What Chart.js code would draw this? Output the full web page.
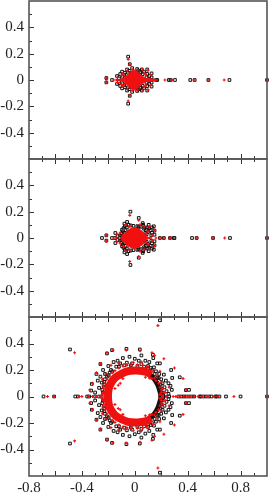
<!DOCTYPE html>
<html>
<head>
<meta charset="utf-8">
<script src="https://cdn.jsdelivr.net/npm/chart.js@4"></script>
<style>
  html, body { margin: 0; padding: 0; background: #fff; }
  body { position: relative; width: 269px; height: 493px; overflow: hidden; }
  canvas { position: absolute; left: 0; }
</style>
</head>
<body>
<canvas id="top" width="269" height="160" style="top:0"></canvas>
<canvas id="mid" width="269" height="160" style="top:158px"></canvas>
<canvas id="bot" width="269" height="177" style="top:316px"></canvas>
<script>
// upper panel
var topBlack = [
  [1,0],[0.716,0],[0.557,0],[0.453,0],[0.42,0],[0.304,0],[0.27,0],[0.258,0],[0.17,0],[0.16,0],[-0.172,0],
  [-0.215,0.015],[-0.215,-0.018],[-0.05,0.177],[-0.05,-0.18],[-0.038,0.12],[-0.038,-0.12],
  [-0.096,0.063],[-0.096,-0.063],[-0.058,0.08],[-0.058,-0.08],[-0.02,0.09],[-0.02,-0.09],[0.018,0.083],[0.018,-0.083],
  [0.053,0.08],[0.053,-0.08],[0.094,0.08],[0.094,-0.08],[0.127,0.05],[0.127,-0.05],[0.094,0.046],[0.094,-0.046],
  [-0.134,0.03],[-0.134,-0.03],[-0.096,0.025],[-0.096,-0.025],[-0.063,0.018],[-0.063,-0.018],[0.089,0.02],[0.089,-0.02],
  [0.127,0.02],[0.127,-0.02],[-0.11,0.045],[-0.11,-0.045],[-0.075,0.055],[-0.075,-0.055],[0.07,0.06],[0.07,-0.06],
  [0.11,0.03],[0.11,-0.03],[0.03,0.07],[0.03,-0.07],[-0.04,0.07],[-0.04,-0.07],[-0.12,0.012],[-0.12,-0.012],
  [-0.08,0.04],[-0.08,-0.04],[0.06,0.045],[0.06,-0.045],[0.04,0.06],[0.04,-0.06],[-0.05,0.055],[-0.05,-0.055]
];
var topRed = [
  [1,0],[0.676,0],[0.554,0],[0.448,0],[0.283,0],[0.228,0],[0.157,0],[0.14,0],[-0.16,0],[-0.14,0],
  [-0.215,0.012],[-0.215,-0.015],[-0.05,0.157],[-0.05,-0.16],[-0.038,0.115],[-0.038,-0.115],
  [-0.09,0.05],[-0.09,-0.05],[-0.055,0.07],[-0.055,-0.07],[-0.02,0.08],[-0.02,-0.08],[0.02,0.078],[0.02,-0.078],
  [0.06,0.082],[0.06,-0.082],[0.1,0.075],[0.1,-0.075],[0.12,0.04],[0.12,-0.04],[-0.13,0.02],[-0.13,-0.02],
  [-0.1,0.035],[-0.1,-0.035],[0.085,0.04],[0.085,-0.04],[0.07,0.05],[0.07,-0.05],[-0.08,0.03],[-0.08,-0.03]
];
var topCore = [
  [-0.14,0],[-0.08,0.012],[-0.06,0.035],[-0.035,0.058],[-0.005,0.078],[0.02,0.06],[0.05,0.035],[0.08,0.014],[0.115,0.01],[0.17,0],
  [0.115,-0.01],[0.08,-0.014],[0.05,-0.035],[0.02,-0.06],[-0.005,-0.078],[-0.035,-0.058],[-0.06,-0.035],[-0.08,-0.012]
];

// middle panel
var midBlack = [
  [1,0],[0.72,0],[0.592,0],[0.468,0],[0.433,0],[0.3,0],[0.295,0],[0.266,0],[0.22,0],[0.19,0],[-0.248,0],[-0.172,0],[-0.15,0],
  [-0.215,0.02],[-0.215,-0.02],[-0.033,0.2],[-0.033,-0.205],[0.03,0.152],[0.03,-0.15],[-0.078,0.109],[-0.078,-0.109],
  [-0.046,0.1],[-0.046,-0.1],[0.063,0.1],[0.063,-0.1],[0.094,0.08],[0.094,-0.08],[0.144,0.089],[0.144,-0.089],
  [0.149,0.056],[0.149,-0.056],[0.149,0.025],[0.149,-0.025],[-0.058,0.122],[-0.058,-0.122],[-0.096,0.063],[-0.096,-0.063],
  [-0.147,0.038],[-0.147,-0.038],[-0.1,0.035],[-0.1,-0.035],[-0.085,0.075],[-0.085,-0.075],[-0.01,0.092],[-0.01,-0.092],
  [0.02,0.09],[0.02,-0.09],[0.045,0.085],[0.045,-0.085],[0.075,0.08],[0.075,-0.08],[0.085,0.06],[0.085,-0.06],
  [0.1,0.045],[0.1,-0.045],[0.12,0.06],[0.12,-0.06],[0.125,0.02],[0.125,-0.02],[-0.075,0.09],[-0.075,-0.09],
  [-0.09,0.05],[-0.09,-0.05],[-0.06,0.08],[-0.06,-0.08],[-0.13,0.015],[-0.13,-0.015],[0.06,0.113],[0.06,-0.113],[0.105,0.1],[0.105,-0.1],
  [-0.07,0.06],[-0.07,-0.06],[-0.08,0.04],[-0.08,-0.04],[0.07,0.07],[0.07,-0.07],[0.08,0.04],[0.08,-0.04],[0.09,0.03],[0.09,-0.03],
  [-0.1,0.015],[-0.1,-0.015],[-0.11,0.02],[-0.11,-0.02],[0.03,0.085],[0.03,-0.085],[-0.03,0.095],[-0.03,-0.095],
  [0.11,0.075],[0.11,-0.075],[0.13,0.08],[0.13,-0.08],[0.13,0.04],[0.13,-0.04]
];
var midRed = [
  [1,0],[0.68,0],[0.592,0],[0.47,0],[0.27,0],[0.265,0],[0.22,0],[0.19,0],[0.16,0],[-0.16,0],[-0.14,0],
  [-0.215,0.022],[-0.215,-0.024],[-0.038,0.172],[-0.038,-0.178],[0.03,0.135],[0.03,-0.14],[-0.07,0.1],[-0.07,-0.1],
  [-0.04,0.09],[-0.04,-0.09],[0.04,0.1],[0.04,-0.1],[0.07,0.085],[0.07,-0.085],[0.11,0.085],[0.11,-0.085],
  [0.15,0.06],[0.15,-0.06],[0.135,0.02],[0.135,-0.02],[-0.11,0.04],[-0.11,-0.04],[-0.135,0.03],[-0.135,-0.03],
  [-0.085,0.065],[-0.085,-0.065],[0.1,0.05],[0.1,-0.05],[0.085,0.035],[0.085,-0.035],[-0.09,0.02],[-0.09,-0.02]
];
var midCore = [
  [-0.11,0],[-0.085,0.015],[-0.075,0.035],[-0.055,0.058],[-0.03,0.072],[0,0.08],[0.03,0.07],[0.058,0.05],[0.075,0.025],[0.1,0.006],[0.13,0],
  [0.1,-0.006],[0.075,-0.025],[0.058,-0.05],[0.03,-0.07],[0,-0.08],[-0.03,-0.072],[-0.055,-0.058],[-0.075,-0.035],[-0.085,-0.015]
];

// lower panel
var botBlack = [
  [1,0],[0.8,0],[0.69,0],[0.64,0],[0.62,0],[0.61,0],[0.58,0],[0.56,0],[0.54,0],[0.52,0],[0.5,0],[0.49,0],[0.45,0],[0.43,0],[0.41,0],
  [0.39,0],[0.37,0],[0.35,0],[0.33,0],[0.26,0],[0.22,0],[-0.69,0],[-0.61,0],[-0.45,0],[-0.43,0],[-0.36,0],[-0.345,0],[-0.3,0],[-0.27,0],[-0.25,0],
  [0.19,0.575],[0.19,-0.575],[-0.49,0.355],[-0.49,-0.355],[-0.063,0.36],[-0.063,-0.36],[0.038,0.355],[0.038,-0.355],
  [-0.172,0.35],[-0.172,-0.35],[-0.21,0.325],[-0.21,-0.325],[0.137,0.315],[0.137,-0.32],[-0.26,0.245],[-0.26,-0.25],
  [0.05,0.31],[0.05,-0.31],[-0.29,0.17],[-0.29,-0.175],[-0.325,0.095],[-0.325,-0.1],[-0.33,0.045],[-0.33,-0.05],
  [0.34,0.145],[0.34,-0.145],[0.283,0.14],[0.283,-0.14],[0.275,0.2],[0.275,-0.2],[0.22,0.165],[0.22,-0.165],
  [0.19,0.25],[0.19,-0.25],[0.145,0.22],[0.145,-0.22],[0.41,0.05],[0.41,-0.05],[0.387,0.048],[0.387,-0.05],
  [-0.09,0.29],[-0.09,-0.29],[-0.04,0.3],[-0.04,-0.3],[0,0.285],[0,-0.285],[0.03,0.27],[0.03,-0.27],[0.08,0.27],[0.08,-0.28],
  [0.11,0.26],[0.11,-0.26],[0.14,0.29],[0.14,-0.29],[0.17,0.25],[0.17,-0.25],[-0.13,0.27],[-0.13,-0.27],[-0.16,0.26],[-0.16,-0.26],
  [-0.2,0.23],[-0.2,-0.23],[-0.24,0.2],[-0.24,-0.2],[-0.26,0.15],[-0.26,-0.155],[-0.25,0.105],[-0.25,-0.105],
  [-0.28,0.12],[-0.28,-0.125],[-0.27,0.065],[-0.27,-0.065],[-0.3,0.03],[-0.3,-0.03],[-0.225,0.17],[-0.225,-0.17],
  [-0.11,0.25],[-0.11,-0.25],[-0.06,0.255],[-0.06,-0.255],[-0.02,0.25],[-0.02,-0.25],[0.05,0.245],[0.05,-0.245],[0.1,0.23],[0.1,-0.23],
  [-0.235,0.07],[-0.235,-0.07],[-0.24,0.03],[-0.24,-0.03],[-0.23,0.11],[-0.23,-0.11],[-0.2,0.16],[-0.2,-0.16],[-0.18,0.2],[-0.18,-0.2],
  [-0.14,0.225],[-0.14,-0.225],[0.13,0.2],[0.13,-0.2],[0.16,0.19],[0.16,-0.19],[0.185,0.17],[0.185,-0.17],[0.2,0.13],[0.2,-0.13],
  [0.18,0.14],[0.18,-0.14],[0.21,0.1],[0.21,-0.1],[0.225,0.07],[0.225,-0.07],[0.24,0.04],[0.24,-0.04],[0.27,0.08],[0.27,-0.08],
  [0.255,0.1],[0.255,-0.1],[0.28,0.05],[0.28,-0.05],[0.255,0.02],[0.255,-0.02],[0.235,0.12],[0.235,-0.12],
  [-0.03,0.235],[-0.03,-0.235],[0.02,0.23],[0.02,-0.23],[0.07,0.225],[0.07,-0.225],[0.12,0.215],[0.12,-0.215],[0.15,0.17],[0.15,-0.17],
  [0.17,0.14],[0.17,-0.14],[0.195,0.09],[0.195,-0.09],[0.2,0.06],[0.2,-0.06],[0.21,0.03],[0.21,-0.03],[0.215,0.01],[0.215,-0.01],
  [-0.08,0.235],[-0.08,-0.235],[-0.17,0.19],[-0.17,-0.19],[-0.21,0.15],[-0.21,-0.15],[-0.23,0.09],[-0.23,-0.09],[-0.245,0.05],[-0.245,-0.05],
  [-0.225,0.13],[-0.225,-0.13],[-0.19,0.18],[-0.19,-0.18],[-0.12,0.225],[-0.12,-0.225]
];
var botRed = [
  [1,0],[0.75,0],[0.63,0],[0.6,0],[0.55,0],[0.51,0],[0.48,0],[0.45,0],[0.42,0],[0.4,0],[0.37,0],[0.34,0],[0.31,0],[0.29,0],[0.24,0],[0.21,0],
  [-0.66,0],[-0.61,0],[-0.42,0],[-0.4,0],[-0.35,0],[-0.32,0],[-0.29,0],[-0.26,0],
  [0.175,0.535],[0.175,-0.54],[-0.455,0.33],[-0.455,-0.335],[-0.065,0.35],[-0.065,-0.35],[0.04,0.345],[0.04,-0.345],
  [-0.165,0.35],[-0.165,-0.35],[-0.21,0.33],[-0.21,-0.33],[0.13,0.33],[0.13,-0.33],[-0.26,0.25],[-0.26,-0.245],
  [0.3,0.215],[0.3,-0.215],[0.22,0.285],[0.22,-0.285],[0.365,0.135],[0.365,-0.135],[0.39,0.05],[0.39,-0.05],
  [0.15,0.31],[0.15,-0.3],[-0.34,0.05],[-0.34,-0.05],[-0.32,0.1],[-0.32,-0.1],[-0.29,0.18],[-0.29,-0.18],
  [-0.24,0.08],[-0.24,-0.08],[-0.245,0.13],[-0.245,-0.13],[-0.22,0.17],[-0.22,-0.17],[-0.18,0.235],[-0.18,-0.235],
  [-0.12,0.25],[-0.12,-0.25],[-0.07,0.245],[-0.07,-0.25],[-0.01,0.255],[-0.01,-0.255],[0.05,0.26],[0.05,-0.26],
  [0.1,0.225],[0.1,-0.24],[0.14,0.2],[0.14,-0.21],[0.17,0.16],[0.17,-0.16],[0.2,0.11],[0.2,-0.11],[0.215,0.06],[0.215,-0.06],
  [0.23,0.03],[0.23,-0.03],[0.26,0.07],[0.26,-0.07],[0.19,0.19],[0.19,-0.19],[0.12,0.18],[0.12,-0.18],
  [-0.11,0.1],[-0.11,-0.1],[-0.125,0.085],[-0.125,-0.09],[-0.15,0.06],[-0.15,-0.06],[-0.09,0.135],[-0.09,-0.135],
  [-0.235,0.03],[-0.235,-0.03],[-0.25,0.01],[-0.25,-0.01],[0.08,0.145],[0.08,-0.145],[0.11,0.14],[0.11,-0.14],[0.2,0.03],[0.2,-0.03],
  [-0.03,0.24],[-0.03,-0.24],[0.02,0.24],[0.02,-0.24],[0.06,0.235],[0.06,-0.235],[0.09,0.225],[0.09,-0.225],[-0.06,0.235],[-0.06,-0.235],
  [-0.09,0.23],[-0.09,-0.23],[-0.12,0.215],[-0.12,-0.215],[-0.15,0.195],[-0.15,-0.195],[-0.17,0.18],[-0.17,-0.18],[-0.19,0.155],[-0.19,-0.155],
  [-0.21,0.13],[-0.21,-0.13],[-0.225,0.1],[-0.225,-0.1],[-0.235,0.06],[-0.235,-0.06],[-0.24,0.02],[-0.24,-0.02],
  [0.12,0.14],[0.12,-0.14],[0.13,0.135],[0.13,-0.135],[0.15,0.14],[0.15,-0.14],[0.16,0.12],[0.16,-0.12],[0.18,0.1],[0.18,-0.1],
  [0.19,0.07],[0.19,-0.07],[0.2,0.05],[0.2,-0.05],[0.19,0.015],[0.19,-0.015],[0.205,0.01],[0.205,-0.01]
];
var botRedBand = [
  [0.125,-0.165],[0.09,-0.185],[0.04,-0.195],[0,-0.197],[-0.05,-0.192],[-0.1,-0.172],[-0.145,-0.145],[-0.178,-0.105],[-0.197,-0.06],[-0.203,0],
  [-0.197,0.06],[-0.178,0.105],[-0.145,0.145],[-0.1,0.172],[-0.05,0.192],[0,0.197],[0.04,0.195],[0.09,0.185],[0.125,0.165]
];
var botBlackBand = [
  [0.1,0.175],[0.145,0.135],[0.175,0.085],[0.193,0.03],[0.197,0],[0.193,-0.03],[0.175,-0.085],[0.145,-0.135],[0.1,-0.175]
];

var xTicksShown = [-0.8, -0.4, 0, 0.4, 0.8];
var yTicksShown = [-0.4, -0.2, 0, 0.2, 0.4];

function pts(list) {
  return list.map(function (p) { return { x: p[0], y: p[1] }; });
}

function fmt(v) {
  var s = (Math.round(v * 10) / 10).toString();
  return s;
}

function isShown(list, v) {
  return list.some(function (t) { return Math.abs(t - v) < 1e-6; });
}

// inward ticks and the frame, Chart.js only does outward ones
var frame = {
  id: "frame",
  afterDatasetsDraw: function (chart, args, opts) {
    var c = chart.ctx, a = chart.chartArea;
    c.save();
    c.strokeStyle = "#333";
    c.lineWidth = 1;
    c.beginPath();
    chart.scales.x.ticks.forEach(function (t) {
      var px = Math.round(chart.scales.x.getPixelForValue(t.value)) + 0.5;
      var len = Math.abs(Math.round(t.value * 10)) % 2 === 0 ? 5 : 3;
      if (px <= a.left + 1 || px >= a.right - 1) return;
      if (opts.bottom) { c.moveTo(px, a.bottom); c.lineTo(px, a.bottom - len); }
      if (opts.top) { c.moveTo(px, a.top); c.lineTo(px, a.top + len); }
    });
    chart.scales.y.ticks.forEach(function (t) {
      var py = Math.round(chart.scales.y.getPixelForValue(t.value)) + 0.5;
      var len = Math.abs(Math.round(t.value * 10)) % 2 === 0 ? 5 : 3;
      if (py <= a.top + 1 || py >= a.bottom - 1) return;
      c.moveTo(a.left, py); c.lineTo(a.left + len, py);
    });
    c.stroke();
    c.strokeStyle = "#555";
    c.lineWidth = 1.6;
    c.strokeRect(a.left, a.top, a.right - a.left, a.bottom - a.top);
    c.restore();
  },
};

function makePanel(id, black, red, extra, showX, hasTop) {
  var sets = [
    {
      data: pts(red),
      pointStyle: "cross",
      pointRadius: 1.5,
      pointBorderWidth: 1.1,
      pointBorderColor: "#f01010",
      showLine: false,
      clip: false,
      order: 1,
    },
    {
      data: pts(black),
      pointStyle: "rect",
      pointRadius: 1.9,
      pointBorderWidth: 1,
      pointBorderColor: "#111",
      pointBackgroundColor: "rgba(0,0,0,0)",
      showLine: false,
      clip: false,
      order: 3,
    },
  ];
  return new Chart(document.getElementById(id), {
    type: "scatter",
    data: { datasets: sets.concat(extra) },
    plugins: [frame],
    options: {
      responsive: false,
      animation: false,
      events: [],
      layout: { autoPadding: false, padding: { top: 1, right: 2, bottom: showX ? 0 : 1, left: 0 } },
      plugins: {
        legend: { display: false },
        tooltip: { enabled: false },
        frame: { bottom: true, top: hasTop },
      },
      scales: {
        x: {
          min: -0.8,
          max: 1,
          display: true,
          grid: { display: false, drawTicks: false },
          border: { display: false },
          ticks: {
            display: showX,
            stepSize: 0.1,
            autoSkip: false,
            maxRotation: 0,
            padding: 3,
            color: "#222",
            font: { family: "Liberation Serif", size: 15 },
            callback: function (v) {
              return isShown(xTicksShown, v) ? fmt(v) : "";
            },
          },
          afterFit: function (scale) {
            scale.height = showX ? 17 : 0;
            scale.paddingLeft = 0;
            scale.paddingRight = 0;
          },
        },
        y: {
          min: -0.6,
          max: 0.6,
          grid: { display: false, drawTicks: false },
          border: { display: false },
          ticks: {
            stepSize: 0.1,
            autoSkip: false,
            padding: 5,
            color: "#222",
            font: { family: "Liberation Serif", size: 15 },
            callback: function (v) {
              return isShown(yTicksShown, v) ? fmt(v) : "";
            },
          },
          afterFit: function (scale) {
            scale.width = 29;
            scale.paddingTop = 0;
            scale.paddingBottom = 0;
          },
        },
      },
    },
  });
}

function coreSet(list) {
  return {
    data: pts(list.concat([list[0]])),
    showLine: true,
    fill: "shape",
    backgroundColor: "#f01010",
    borderColor: "#f01010",
    borderWidth: 1,
    pointRadius: 0,
    order: 2,
  };
}

function bandSet(list, color, width, order) {
  return {
    data: pts(list),
    showLine: true,
    tension: 0.3,
    borderColor: color,
    borderWidth: width,
    pointRadius: 0,
    order: order,
  };
}

makePanel("top", topBlack, topRed, [coreSet(topCore)], false, false);
makePanel("mid", midBlack, midRed, [coreSet(midCore)], false, true);
makePanel("bot", botBlack, botRed, [
  bandSet(botRedBand, "#f01010", 8, 2),
  bandSet(botBlackBand, "#111", 5, 4),
], true, true);
</script>
</body>
</html>
